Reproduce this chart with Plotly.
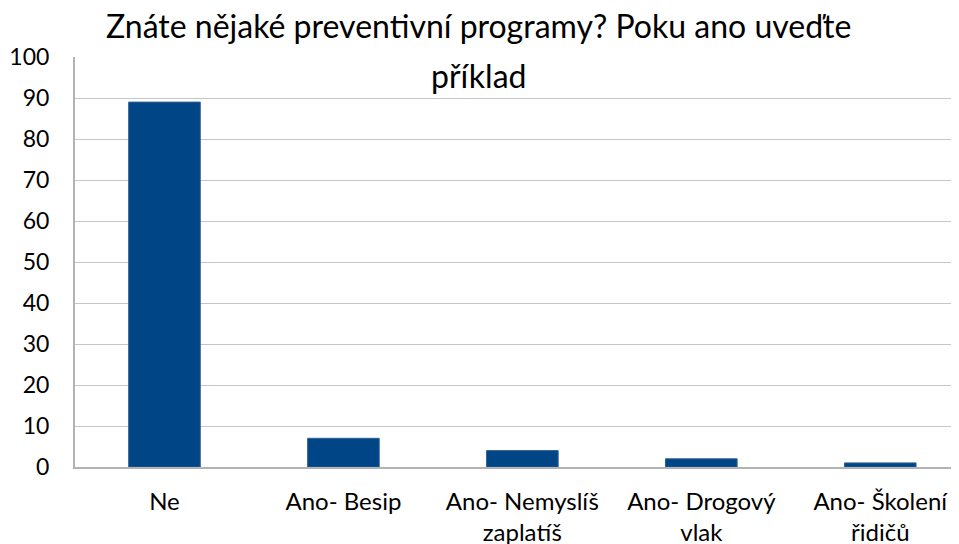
import plotly.graph_objects as go

categories = ["Ne", "Ano- Besip", "Ano- Nemyslíš<br>zaplatíš", "Ano- Drogový<br>vlak", "Ano- Školení<br>řidičů"]
values = [89, 7, 4, 2, 1]
title_line1 = "Znáte nějaké preventivní programy? Poku ano uveďte"
title_line2 = "příklad"

FONT = "Lato"

fig = go.Figure(go.Bar(
    x=list(range(len(categories))),
    y=values,
    marker=dict(color="#004586", line=dict(color="#2f5f95", width=1)),
    width=0.4,
))

# page body has an 8px margin, so the figure is sized 8px smaller
fig.update_layout(
    width=951, height=536,
    margin=dict(l=67, r=0, t=49, b=77),
    paper_bgcolor="white", plot_bgcolor="white",
    showlegend=False,
    font=dict(family=FONT, color="black"),
    xaxis=dict(
        tickmode="array", tickvals=list(range(len(categories))), ticktext=categories,
        range=[-0.5, 4.44], showgrid=False, showline=True, linecolor="#b3b3b3", linewidth=2,
        tickfont=dict(size=24, family=FONT), ticks="outside", ticklen=12, tickcolor="rgba(0,0,0,0)",
        fixedrange=True, automargin=False,
    ),
    yaxis=dict(
        range=[0, 100], dtick=10, showgrid=True, gridcolor="#c6c6c6", gridwidth=1,
        showline=True, linecolor="#b3b3b3", linewidth=2, zeroline=False,
        tickfont=dict(size=23, family=FONT), ticks="outside", ticklen=19, tickcolor="rgba(0,0,0,0)",
        fixedrange=True, automargin=False,
    ),
    annotations=[
        dict(text=title_line1, xref="paper", yref="paper", x=(478 - 75) / 884, y=1 + (57 - 26) / 410,
             xanchor="center", yanchor="middle", showarrow=False, font=dict(size=32, family=FONT)),
        dict(text=title_line2, xref="paper", yref="paper", x=(478 - 75) / 884, y=1 - (75 - 57) / 410,
             xanchor="center", yanchor="middle", showarrow=False, font=dict(size=32, family=FONT)),
    ],
)

fig.write_html("out.html")
